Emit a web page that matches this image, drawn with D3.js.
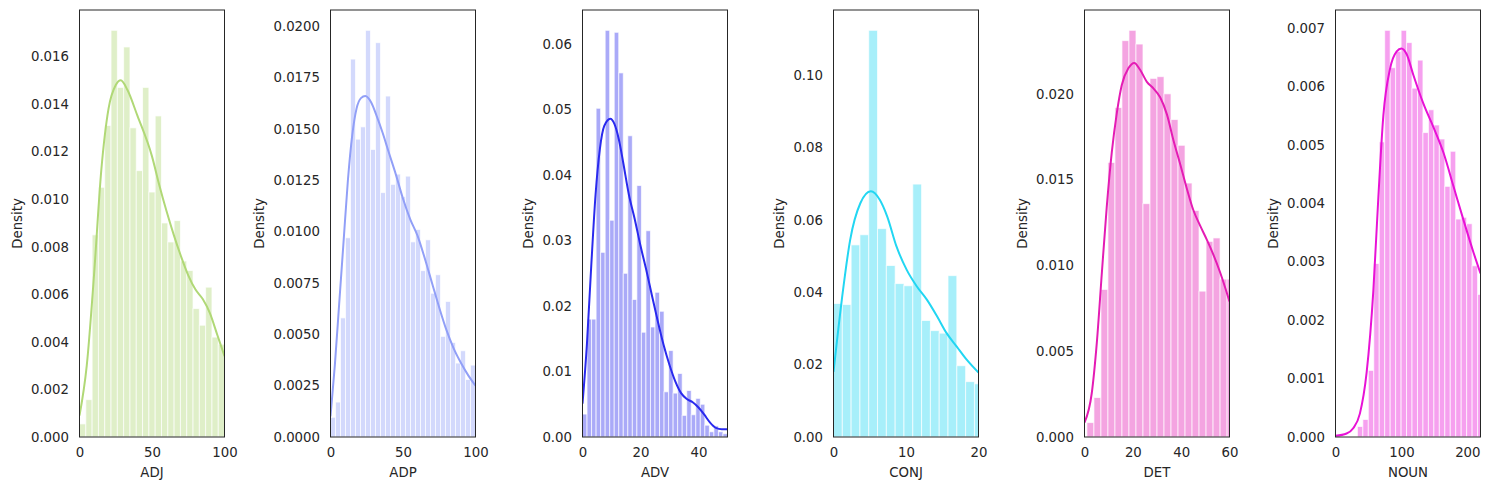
<!DOCTYPE html>
<html>
<head>
<meta charset="utf-8">
<script src="https://cdn.jsdelivr.net/npm/d3@7"></script>
<style>
  body { margin: 0; background: #fff; }
  text { font-family: "DejaVu Sans", sans-serif; fill: #262626; }
</style>
</head>
<body>
<script>
// histogram heights (density) per variable, bins
var adjBins  = [0.00055, 0.00157, 0.0085, 0.0105, 0.0131, 0.0171, 0.0147, 0.0164, 0.0130, 0.0112, 0.0147, 0.0103,
                0.0135, 0.0090, 0.0082, 0.0091, 0.0074, 0.0070, 0.0054, 0.0047, 0.0063, 0.0042, 0.0039];
var adpBins  = [0.00096, 0.0017, 0.0058, 0.0097, 0.0184, 0.0145, 0.0151, 0.0198, 0.0140, 0.0192, 0.0119, 0.0166,
                0.0123, 0.0128, 0.0117, 0.0127, 0.0095, 0.0101, 0.0081, 0.0096, 0.0070, 0.0079, 0.0049, 0.0066,
                0.0046, 0.0036, 0.0042, 0.0028, 0.0035];
var advBins  = [0.0035, 0.018, 0.018, 0.0502, 0.0282, 0.0621, 0.0331, 0.0618, 0.0556, 0.025, 0.046, 0.021,
                0.0384, 0.016, 0.0315, 0.0168, 0.0221, 0.0192, 0.0069, 0.0132, 0.0067, 0.0097, 0.0033, 0.0071,
                0.0034, 0.0059, 0.0050, 0.0018, 0.0008, 0.0017, 0.0008, 0.0005];
var conjBins = [0.0369, 0.0366, 0.0531, 0.0559, 0.1124, 0.0576, 0.0474, 0.0424, 0.0418, 0.0699, 0.0322, 0.0294,
                0.0287, 0.0446, 0.0197, 0.0153, 0.0147];
var detBins  = [0.00084, 0.0023, 0.0086, 0.0160, 0.0192, 0.0231, 0.0237, 0.0229, 0.0136, 0.0209, 0.0210, 0.0200,
                0.0185, 0.0170, 0.0148, 0.0132, 0.0085, 0.0114, 0.0116, 0.0092, 0.0092];
var nounBins = [0.00018, 0.0003, 0.00114, 0.00297, 0.00505, 0.00696, 0.00632, 0.0066, 0.00696, 0.00675, 0.00597,
                0.00645, 0.00521, 0.0056, 0.00534, 0.0051, 0.00429, 0.00489, 0.00373, 0.00376, 0.00365, 0.00293, 0.00244];

// where the first bin starts and how wide each bin is
var binStart = [0, 0, 0, 0, 1.0, 33.2];
var binWidth = [4.35, 3.448, 1.5625, 1.215, 2.9, 8.29];

// kde curves, [x, density]
var adjKde = [[0,0.0009],[5,0.0030],[10,0.0068],[15,0.0112],[20,0.0138],[25,0.0148],[28.5,0.0150],[33,0.0146],
              [40,0.0135],[50,0.0118],[55,0.0106],[60,0.0095],[65,0.0085],[70,0.0076],[75,0.0068],[80,0.0062],
              [85,0.0058],[90,0.0052],[95,0.0043],[100,0.0034]];
var adpKde = [[0,0.0010],[3,0.0035],[6,0.0065],[9,0.0095],[12,0.0125],[15,0.0147],[18,0.0160],[21,0.0165],
              [24,0.0166],[28,0.0163],[32,0.0156],[36,0.0148],[40,0.0139],[45,0.0128],[50,0.0116],[55,0.0106],
              [60,0.0098],[65,0.0087],[70,0.0075],[75,0.0063],[80,0.0052],[85,0.0043],[90,0.0036],[95,0.0030],[100,0.0025]];
var advKde = [[0,0.0051],[1.5,0.014],[3,0.026],[4.5,0.037],[6,0.044],[7.5,0.0475],[9.6,0.0486],[11,0.0478],
              [12.5,0.0455],[14,0.042],[16,0.037],[18,0.0333],[20,0.0292],[22,0.0255],[24,0.0215],[26,0.0176],
              [28,0.0140],[30,0.0110],[32,0.0085],[34,0.0067],[36,0.0058],[38,0.0053],[40,0.0045],[42,0.0034],
              [44,0.0022],[46,0.0014],[48,0.0012],[50,0.0012]];
var conjKde = [[0,0.018],[1.15,0.038],[2.3,0.0545],[3.7,0.0646],[5.15,0.0679],[6.4,0.0655],[7.4,0.061],[8.7,0.0526],
               [10.1,0.0462],[11.5,0.0416],[12.9,0.0379],[14.3,0.0333],[15.6,0.0287],[17,0.025],[18.4,0.0213],[20,0.0178]];
var detKde = [[0,0.00084],[3,0.00255],[5.1,0.0055],[7.2,0.0096],[9.2,0.0134],[11.3,0.0166],[13.4,0.0189],[15.4,0.0205],
              [18.2,0.0215],[20.6,0.0218],[23,0.0214],[25.8,0.0207],[28.6,0.0203],[31.3,0.0198],[34.1,0.0188],
              [36.8,0.0173],[39.6,0.0159],[42.3,0.0145],[45.1,0.0132],[47.9,0.0123],[50.6,0.0115],[53.4,0.0106],
              [56.1,0.0096],[60,0.0079]];
var nounKde = [[0,0.00002],[16.8,0.00006],[26.9,0.00015],[37,0.0004],[47.2,0.0011],[57.4,0.0025],[65,0.0041],
               [72.6,0.0055],[82.7,0.0063],[92.9,0.0066],[100,0.00665],[108,0.00655],[118,0.0062],[133.5,0.0057],
               [148.7,0.0053],[164,0.00486],[179,0.00429],[194,0.00372],[209.6,0.00315],[220,0.0028]];

var names    = ["ADJ", "ADP", "ADV", "CONJ", "DET", "NOUN"];
var xDomains = [[0, 100], [0, 100], [0, 50], [0, 20], [0, 60], [0, 220]];
var xTicks   = [[0, 50, 100], [0, 50, 100], [0, 20, 40], [0, 10, 20], [0, 20, 40, 60], [0, 100, 200]];
var yTicks   = [d3.range(0, 0.0161, 0.002), d3.range(0, 0.02001, 0.0025), d3.range(0, 0.0601, 0.01),
                d3.range(0, 0.1001, 0.02), d3.range(0, 0.0201, 0.005), d3.range(0, 0.00701, 0.001)];
var yFormats = [".3f", ".4f", ".2f", ".2f", ".3f", ".3f"];

var allBins = [adjBins, adpBins, advBins, conjBins, detBins, nounBins];
var allKde  = [adjKde, adpKde, advKde, conjKde, detKde, nounKde];

var colors = ["#b0d876", "#919ff7", "#2a2aee", "#22d6f2", "#e41cb4", "#e812d6"];

var lefts = [79.5, 330.5, 582.5, 833.5, 1084.5, 1335.5];
var panelW = 145, plotTop = 10, plotBottom = 437;
var plotH = plotBottom - plotTop;

var svg = d3.select("body").append("svg")
            .attr("width", 1490)
            .attr("height", 490);

for (var p = 0; p < 6; p++) {
    var bins = allBins[p];
    var x = d3.scaleLinear().domain(xDomains[p]).range([0, panelW]);
    var y = d3.scaleLinear().domain([0, d3.max(bins) * 1.05]).range([plotH, 0]);

    var g = svg.append("g").attr("transform", "translate(" + lefts[p] + "," + plotTop + ")");

    g.append("clipPath").attr("id", "clip" + p)
     .append("rect").attr("width", panelW).attr("height", plotH);

    var inner = g.append("g").attr("clip-path", "url(#clip" + p + ")");

    // bars
    inner.selectAll("rect.bar").data(bins).enter().append("rect")
         .attr("class", "bar")
         .attr("x", function(d, i) { return x(binStart[p] + i * binWidth[p]); })
         .attr("width", x(binWidth[p]) - x(0))
         .attr("y", function(d) { return y(d); })
         .attr("height", function(d) { return y(0) - y(d); })
         .attr("fill", colors[p])
         .attr("fill-opacity", 0.4)
         .attr("stroke", "#fff")
         .attr("stroke-opacity", 0.7)
         .attr("stroke-width", 1);

    // kde line
    var line = d3.line()
                 .x(function(d) { return x(d[0]); })
                 .y(function(d) { return y(d[1]); })
                 .curve(d3.curveMonotoneX);
    inner.append("path").datum(allKde[p])
         .attr("d", line)
         .attr("fill", "none")
         .attr("stroke", colors[p])
         .attr("stroke-width", 2);

    // frame
    g.append("rect").attr("width", panelW).attr("height", plotH)
     .attr("fill", "none").attr("stroke", "#262626").attr("stroke-width", 1);

    // axes, no tick marks
    var yAxis = g.append("g")
                 .call(d3.axisLeft(y).tickValues(yTicks[p]).tickFormat(d3.format(yFormats[p]))
                         .tickSize(0).tickPadding(10.5));
    var xAxis = g.append("g").attr("transform", "translate(0," + plotH + ")")
                 .call(d3.axisBottom(x).tickValues(xTicks[p]).tickSize(0).tickPadding(10.6));
    [yAxis, xAxis].forEach(function(a) {
        a.select(".domain").remove();
        a.selectAll("text").style("font-size", "13.3px").attr("fill", "#262626")
         .style("font-family", "DejaVu Sans, sans-serif");
    });

    // axis labels
    var bb = yAxis.node().getBBox();
    g.append("text")
     .attr("transform", "translate(" + (bb.x - 13.7) + "," + (plotH / 2) + ") rotate(-90)")
     .attr("text-anchor", "middle")
     .attr("dominant-baseline", "central")
     .style("font-size", "13.3px")
     .text("Density");
    g.append("text")
     .attr("x", panelW / 2)
     .attr("y", 477 - plotTop)
     .attr("text-anchor", "middle")
     .style("font-size", "13.3px")
     .text(names[p]);
}
</script>
</body>
</html>
